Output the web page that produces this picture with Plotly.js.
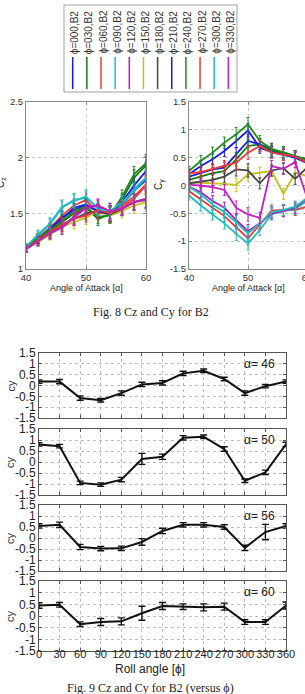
<!DOCTYPE html>
<html>
<head>
<meta charset="utf-8">
<script src="https://cdn.plot.ly/plotly-3.0.1.min.js"></script>
<style>
  html, body { margin: 0; padding: 0; background: #fff; overflow: hidden; }
  #chart { width: 320px; height: 694px; }
</style>
</head>
<body>
<div id="chart"></div>
<script>
// ---- Fig. 8 : Cz and Cy against angle of attack, one series per roll angle ----
const alpha = [40, 42, 44, 46, 48, 50, 52, 54, 56, 58, 60];
const seriesNames = ['ϕ=000,B2', 'ϕ=030,B2', 'ϕ=060,B2', 'ϕ=090,B2', 'ϕ=120,B2', 'ϕ=150,B2',
                     'ϕ=180,B2', 'ϕ=210,B2', 'ϕ=240,B2', 'ϕ=270,B2', 'ϕ=300,B2', 'ϕ=330,B2'];
const seriesColors = ['#1a1adf', '#127a12', '#e83a3a', '#22bcbc', '#b41cb4', '#c2c21a',
                      '#444444', '#1a1adf', '#1f8a1f', '#e83a3a', '#22bcbc', '#c020c0'];

const cz000 = [1.19, 1.27, 1.35, 1.45, 1.55, 1.58, 1.52, 1.50, 1.58, 1.70, 1.80];
const cz030 = [1.19, 1.27, 1.34, 1.42, 1.50, 1.55, 1.45, 1.49, 1.62, 1.82, 1.93];
const cz060 = [1.19, 1.28, 1.37, 1.48, 1.57, 1.62, 1.50, 1.50, 1.57, 1.65, 1.76];
const cz090 = [1.20, 1.30, 1.40, 1.55, 1.62, 1.64, 1.55, 1.52, 1.58, 1.72, 1.82];
const cz120 = [1.18, 1.25, 1.33, 1.38, 1.47, 1.57, 1.56, 1.50, 1.55, 1.60, 1.62];
const cz150 = [1.18, 1.24, 1.31, 1.38, 1.42, 1.46, 1.52, 1.48, 1.52, 1.57, 1.60];
const cz180 = [1.18, 1.25, 1.32, 1.40, 1.45, 1.50, 1.52, 1.49, 1.54, 1.60, 1.63];
const cz210 = [1.19, 1.27, 1.36, 1.46, 1.53, 1.57, 1.52, 1.50, 1.60, 1.75, 1.88];
const cz240 = [1.19, 1.28, 1.35, 1.43, 1.52, 1.56, 1.47, 1.48, 1.65, 1.85, 1.95];
const cz270 = [1.18, 1.26, 1.33, 1.40, 1.45, 1.48, 1.53, 1.50, 1.55, 1.63, 1.75];
const cz300 = [1.20, 1.31, 1.41, 1.56, 1.61, 1.65, 1.54, 1.52, 1.60, 1.70, 1.82];
const cz330 = [1.18, 1.25, 1.32, 1.37, 1.46, 1.55, 1.57, 1.52, 1.54, 1.60, 1.63];
const czErr = [0.03, 0.04, 0.05, 0.06, 0.06, 0.06, 0.06, 0.07, 0.06, 0.07, 0.08];

const cy000 = [0.16, 0.22, 0.29, 0.32, 0.56, 0.80, 0.74, 0.65, 0.56, 0.50, 0.42];
const cy030 = [0.10, 0.16, 0.22, 0.26, 0.47, 0.71, 0.74, 0.62, 0.59, 0.53, 0.47];
const cy060 = [-0.10, -0.25, -0.40, -0.55, -0.75, -0.95, -0.70, -0.45, -0.44, -0.44, -0.38];
const cy090 = [-0.18, -0.36, -0.52, -0.68, -0.87, -1.04, -0.80, -0.52, -0.46, -0.42, -0.28];
const cy120 = [-0.02, -0.12, -0.28, -0.40, -0.62, -0.82, -0.68, -0.50, -0.46, -0.40, -0.24];
const cy150 = [0.05, 0.05, 0.04, 0.03, 0.01, 0.20, 0.23, 0.26, -0.15, 0.23, 0.17];
const cy180 = [0.04, 0.07, 0.10, 0.16, 0.29, 0.27, 0.04, 0.27, 0.31, 0.12, 0.32];
const cy210 = [0.20, 0.35, 0.47, 0.62, 0.80, 0.99, 0.68, 0.60, 0.55, 0.50, 0.40];
const cy240 = [0.26, 0.44, 0.59, 0.77, 0.92, 1.10, 0.80, 0.66, 0.60, 0.53, 0.44];
const cy270 = [0.22, 0.24, 0.30, 0.35, 0.41, 0.59, 0.71, 0.59, 0.55, 0.52, 0.41];
const cy300 = [-0.02, -0.16, -0.34, -0.48, -0.66, -0.86, -0.68, -0.48, -0.44, -0.38, -0.22];
const cy330 = [0.01, 0.00, -0.03, -0.08, -0.40, -0.52, -0.58, 0.35, 0.30, 0.42, -0.22];
const cyErr = [0.08, 0.10, 0.10, 0.10, 0.12, 0.12, 0.10, 0.10, 0.10, 0.10, 0.10];

const czSeries = [cz000, cz030, cz060, cz090, cz120, cz150, cz180, cz210, cz240, cz270, cz300, cz330];
const cySeries = [cy000, cy030, cy060, cy090, cy120, cy150, cy180, cy210, cy240, cy270, cy300, cy330];

// ---- Fig. 9 : Cy against roll angle at four angles of attack ----
const rollAngle = [0, 30, 60, 90, 120, 150, 180, 210, 240, 270, 300, 330, 360];
const rollTicks = [0, 30, 60, 90, 120, 150, 180, 210, 240, 270, 300, 330, 360];
const alphaLabels = ['α= 46', 'α= 50', 'α= 56', 'α= 60'];
const cyA46 = [0.18, 0.18, -0.58, -0.68, -0.35, 0.05, 0.12, 0.56, 0.68, 0.30, -0.35, -0.03, 0.18];
const errA46 = [0.08, 0.10, 0.10, 0.08, 0.10, 0.10, 0.10, 0.10, 0.08, 0.08, 0.10, 0.08, 0.08];
const cyA50 = [0.80, 0.72, -0.95, -1.03, -0.80, 0.14, 0.24, 1.10, 1.15, 0.59, -0.85, -0.47, 0.80];
const errA50 = [0.08, 0.08, 0.08, 0.08, 0.10, 0.25, 0.12, 0.10, 0.08, 0.10, 0.08, 0.10, 0.10];
const cyA56 = [0.55, 0.60, -0.41, -0.48, -0.47, -0.18, 0.32, 0.60, 0.60, 0.50, -0.45, 0.27, 0.55];
const errA56 = [0.10, 0.12, 0.12, 0.10, 0.10, 0.15, 0.12, 0.10, 0.10, 0.10, 0.12, 0.35, 0.10];
const cyA60 = [0.45, 0.48, -0.35, -0.26, -0.23, 0.12, 0.43, 0.40, 0.37, 0.40, -0.26, -0.26, 0.45];
const errA60 = [0.12, 0.10, 0.10, 0.15, 0.15, 0.30, 0.15, 0.12, 0.15, 0.15, 0.10, 0.10, 0.15];
const rollSeries = [cyA46, cyA50, cyA56, cyA60];
const rollErrors = [errA46, errA50, errA56, errA60];

// ---- layout helpers (figure pixels -> paper fractions) ----
const W = 320, H = 694;
const px = v => v / W;
const py = v => 1 - v / H;
const xDom = (l, r) => [l / W, r / W];
const yDom = (t, b) => [1 - b / H, 1 - t / H];

const SANS = 'Liberation Sans, Arial, sans-serif';
const SERIF = 'Liberation Serif, Times New Roman, serif';

const traces = [];
czSeries.forEach((s, i) => traces.push({
  x: alpha, y: s, xaxis: 'x', yaxis: 'y', type: 'scatter', mode: 'lines',
  name: seriesNames[i], line: {color: seriesColors[i], width: 1.8},
  error_y: {type: 'data', array: czErr, color: seriesColors[i], thickness: 1, width: 1.5},
  showlegend: false, hoverinfo: 'skip'
}));
cySeries.forEach((s, i) => traces.push({
  x: alpha, y: s, xaxis: 'x2', yaxis: 'y2', type: 'scatter', mode: 'lines',
  name: seriesNames[i], line: {color: seriesColors[i], width: 1.8},
  error_y: {type: 'data', array: cyErr, color: seriesColors[i], thickness: 1, width: 1.5},
  showlegend: false, hoverinfo: 'skip'
}));
rollSeries.forEach((s, i) => traces.push({
  x: rollAngle, y: s, xaxis: 'x' + (i + 3), yaxis: 'y' + (i + 3), type: 'scatter', mode: 'lines',
  line: {color: '#111', width: 2},
  error_y: {type: 'data', array: rollErrors[i], color: '#111', thickness: 1.4, width: 3.5},
  showlegend: false, hoverinfo: 'skip'
}));

function topAxis(domain, anchor, range, tickvals, fontSize) {
  return {
    domain: domain, anchor: anchor, range: range, tickvals: tickvals, tickangle: 0,
    showgrid: true, gridcolor: '#c8c8c8', griddash: 'dot', gridwidth: 1,
    zeroline: false, showline: true, linecolor: '#8a8a8a', linewidth: 1, mirror: 'ticks',
    ticks: 'inside', ticklen: 3, tickcolor: '#8a8a8a',
    tickfont: {family: SANS, size: fontSize, color: '#333'}, fixedrange: true
  };
}
function rollAxisX(domain, anchor, labels) {
  return {
    domain: domain, anchor: anchor, range: [0, 360], tickvals: rollTicks, tickangle: 0,
    showticklabels: labels, ticklabelstandoff: -7,
    showgrid: true, gridcolor: '#bdbdbd', griddash: 'dot', gridwidth: 1,
    zeroline: false, showline: true, linecolor: '#555', linewidth: 1, mirror: 'ticks',
    ticks: 'inside', ticklen: 3, tickcolor: '#555',
    tickfont: {family: SANS, size: 11, color: '#222'}, fixedrange: true
  };
}
function rollAxisY(domain, anchor) {
  return {
    domain: domain, anchor: anchor, range: [-1.5, 1.5],
    tickvals: [-1.5, -1, -0.5, 0, 0.5, 1, 1.5], ticktext: ['-1.5', '-1', '-0.5', '0', '0.5', '1', '1.5'],
    showgrid: true, gridcolor: '#bdbdbd', griddash: 'dot', gridwidth: 1,
    zeroline: false, showline: true, linecolor: '#555', linewidth: 1, mirror: 'ticks',
    ticks: 'inside', ticklen: 3, tickcolor: '#555',
    tickfont: {family: SANS, size: 12, color: '#222'}, fixedrange: true
  };
}

const panelRows = [[353, 418], [429, 495], [505, 571], [581, 651]];

const layout = {
  width: W, height: H,
  margin: {l: 0, r: 0, t: 0, b: 0},
  paper_bgcolor: '#fff', plot_bgcolor: '#fff',
  showlegend: false,
  xaxis: topAxis(xDom(26, 146), 'y', [40, 60], [40, 50, 60], 9.5),
  yaxis: topAxis(yDom(102, 269), 'x', [1, 2.5], [1, 1.5, 2, 2.5], 9.5),
  xaxis2: topAxis(xDom(189, 307), 'y2', [40, 60], [40, 50, 60], 9.5),
  yaxis2: topAxis(yDom(102, 269), 'x2', [-1.5, 1.5], [-1.5, -1, -0.5, 0, 0.5, 1, 1.5], 9.5),
  annotations: [], shapes: []
};
layout.yaxis2.ticktext = ['-1.5', '-1', '-0.5', '0', '0.5', '1', '1.5'];
panelRows.forEach((r, i) => {
  layout['xaxis' + (i + 3)] = rollAxisX(xDom(39, 286), 'y' + (i + 3), i === 3);
  layout['yaxis' + (i + 3)] = rollAxisY(yDom(r[0], r[1]), 'x' + (i + 3));
  layout.annotations.push({
    xref: 'paper', yref: 'paper', x: px(259), y: py(r[0] + 11), text: alphaLabels[i],
    showarrow: false, xanchor: 'center', yanchor: 'middle',
    font: {family: SANS, size: 12, color: '#222'}
  });
  layout.annotations.push({
    xref: 'paper', yref: 'paper', x: px(10), y: py((r[0] + r[1]) / 2), text: 'cy',
    showarrow: false, textangle: -90, xanchor: 'center', yanchor: 'middle',
    font: {family: SANS, size: 11, color: '#333'}
  });
});

// axis titles and captions
const textNotes = [
  {x: 86, y: 288, text: 'Angle of Attack [α]', size: 9, angle: 0, family: SANS},
  {x: 248, y: 288, text: 'Angle of Attack [α]', size: 9, angle: 0, family: SANS},
  {x: 1, y: 183, text: 'C<sub>z</sub>', size: 10, angle: -90, family: SANS},
  {x: 159, y: 185, text: 'C<sub>y</sub>', size: 10, angle: -90, family: SANS},
  {x: 151, y: 312, text: 'Fig. 8 Cz and Cy for B2', size: 12, angle: 0, family: SERIF},
  {x: 150, y: 669, text: 'Roll angle [ϕ]', size: 12, angle: 0, family: SANS},
  {x: 150, y: 688, text: 'Fig. 9 Cz and Cy for B2 (versus ϕ)', size: 12, angle: 0, family: SERIF}
];
textNotes.forEach(t => layout.annotations.push({
  xref: 'paper', yref: 'paper', x: px(t.x), y: py(t.y), text: t.text, textangle: t.angle,
  showarrow: false, xanchor: 'center', yanchor: 'middle',
  font: {family: t.family, size: t.size, color: '#222'}
}));

// legend block: rotated series labels above short coloured strokes
layout.shapes.push({
  type: 'rect', xref: 'paper', yref: 'paper',
  x0: px(64), x1: px(237), y0: py(92), y1: py(5),
  line: {color: '#a0a0a0', width: 1}, fillcolor: '#fff', layer: 'below'
});
seriesNames.forEach((nm, i) => {
  const cx = 72.7 + i * 14.15;
  layout.annotations.push({
    xref: 'paper', yref: 'paper', x: px(cx + 1.5), y: py(32), text: nm, textangle: -90,
    showarrow: false, xanchor: 'center', yanchor: 'middle',
    font: {family: SANS, size: 10, color: '#333'}
  });
  layout.shapes.push({
    type: 'line', xref: 'paper', yref: 'paper',
    x0: px(cx), x1: px(cx), y0: py(89), y1: py(57),
    line: {color: seriesColors[i], width: 1.5}
  });
});

Plotly.newPlot('chart', traces, layout, {staticPlot: true, displayModeBar: false});
</script>
</body>
</html>
